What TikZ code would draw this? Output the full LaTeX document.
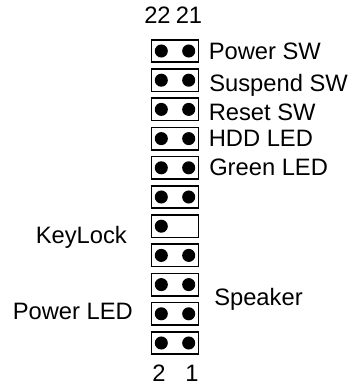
\documentclass[tikz,border=0pt]{standalone}
\usepackage{fontspec}
\setmainfont{Liberation Sans}
\tikzset{
  header/.style={draw, line width=1.3pt, minimum width=35.2pt, minimum height=16.8pt, inner sep=0pt},
  pin/.style={fill=black, circle, minimum size=9.8pt, inner sep=0pt},
  lbl/.style={font=\fontsize{17.8}{21}\selectfont, inner sep=0pt, anchor=base west}
}
\begin{document}
\begin{tikzpicture}[x=0.75pt, y=-0.75pt]
  \useasboundingbox (0,0) rectangle (353,388);
  \foreach \row in {1,...,11} {
    \node (hdr\row) [header] at (175,{51+(\row-1)*29.2}) {};
    \node (pinL\row) [pin] at (161.3,{51+(\row-1)*29.2}) {};
    \ifnum\row=7\else
      \node (pinR\row) [pin] at (188.7,{51+(\row-1)*29.2}) {};
    \fi
  }
  \node (n22) [lbl] at (144,24) {22};
  \node (n21) [lbl] at (175.5,24) {21};
  \node (n2) [lbl] at (152,381) {2};
  \node (n1) [lbl] at (185,381) {1};

  \node (power_sw) [lbl] at (208.5,60) {Power SW};
  \node (suspend_sw) [lbl] at (209,92) {Suspend SW};
  \node (reset_sw) [lbl] at (208.5,120.7) {Reset SW};
  \node (hdd_led) [lbl] at (208.5,146.7) {HDD LED};
  \node (green_led) [lbl] at (209,175.5) {Green LED};
  \node (keylock) [lbl] at (35.5,243) {KeyLock};
  \node (speaker) [lbl] at (214,305) {Speaker};
  \node (power_led) [lbl] at (12.5,319) {Power LED};
\end{tikzpicture}
\end{document}
